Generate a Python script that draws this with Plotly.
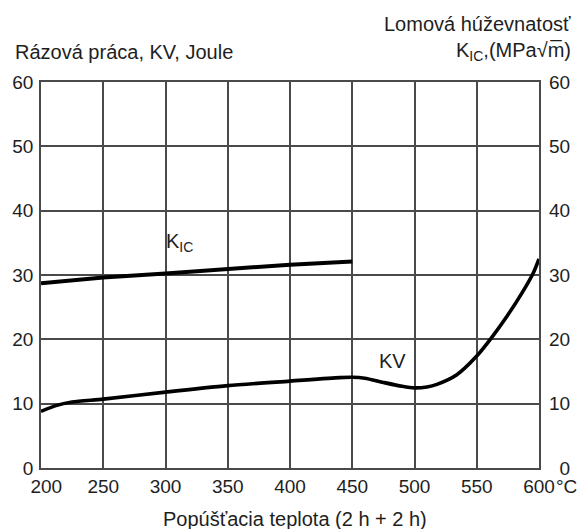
import plotly.graph_objects as go

# ---- data ----
kv_temp = [200, 212, 225, 250, 300, 350, 400, 440, 450, 460, 475, 490, 500, 510, 518, 534, 550, 561.5, 574, 586, 595.6, 600]
kv_val = [8.8, 9.7, 10.25, 10.7, 11.8, 12.8, 13.5, 14.05, 14.1, 13.95, 13.3, 12.7, 12.45, 12.6, 13.0, 14.5, 17.4, 20.15, 23.5, 27.1, 30.4, 32.5]

kic_temp = [200, 250, 300, 350, 400, 450]
kic_val = [28.7, 29.6, 30.25, 31.0, 31.6, 32.1]

x_ticks = [200, 250, 300, 350, 400, 450, 500, 550, 600]
x_ticklabels = ["\u2007200", "250", "300", "350", "400", "450", "500", "550", "600"]
y_ticks = [0, 10, 20, 30, 40, 50, 60]
y_ticklabels = ["0", "10", "20", "30", "40", "50", "60"]
y2_ticklabels = ["\u20070", "10", "20", "30", "40", "50", "60"]

FONT = "Liberation Sans, Arial, sans-serif"
TXT = "#1e1e1e"
GRID = "#4a4a4a"

fig = go.Figure()
fig.add_trace(go.Scatter(x=kic_temp, y=kic_val, mode="lines",
                         line=dict(color="black", width=4), showlegend=False))
fig.add_trace(go.Scatter(x=kv_temp, y=kv_val, mode="lines",
                         line=dict(color="black", width=3.6, shape="spline", smoothing=0.7),
                         showlegend=False))
# invisible trace to activate right axis
fig.add_trace(go.Scatter(x=[200], y=[0], yaxis="y2", mode="lines",
                         line=dict(width=0), showlegend=False, hoverinfo="skip"))

axis_common = dict(showgrid=True, gridcolor=GRID, gridwidth=1.5, zeroline=False,
                   showline=True, linecolor=GRID, linewidth=1.5, ticks="",
                   tickfont=dict(family=FONT, size=19, color=TXT))

fig.update_layout(
    width=582, height=529,
    margin=dict(l=40, r=39, t=82, b=61),
    paper_bgcolor="white", plot_bgcolor="white",
    font=dict(family=FONT, color=TXT, size=20),
    xaxis=dict(range=[200, 600], tickvals=x_ticks, ticktext=x_ticklabels,
               mirror=True, **axis_common),
    yaxis=dict(range=[0, 60], tickvals=y_ticks, ticktext=y_ticklabels,
               mirror=True, ticklabelstandoff=2, **axis_common),
    yaxis2=dict(range=[0, 60], tickvals=y_ticks, ticktext=y2_ticklabels,
                overlaying="y", side="right", showgrid=False, zeroline=False,
                showline=False, ticks="", ticklabelstandoff=9,
                tickfont=dict(family=FONT, size=19, color=TXT)),
)

annos = [
    dict(text="Rázová práca, KV, Joule", x=-0.0557, y=1.078, xanchor="left", yanchor="middle"),
    dict(text="Lomová húževnatosť", x=1.0676, y=1.150, xanchor="right", yanchor="middle"),
    dict(text="K<sub>IC</sub>,(MPa√m\u0305)", x=1.0676, y=1.078, xanchor="right", yanchor="middle"),
    dict(text="Popúšťacia teplota (2 h + 2 h)", x=0.511, y=-0.132, xanchor="center", yanchor="middle"),
]
for a in annos:
    fig.add_annotation(xref="paper", yref="paper", showarrow=False,
                       font=dict(family=FONT, size=20, color=TXT), **a)

# °C unit after the 600 tick label
fig.add_annotation(xref="x", yref="paper", x=600, y=-0.047, text="°C", showarrow=False,
                   xanchor="left", yanchor="middle", xshift=15,
                   font=dict(family=FONT, size=19, color=TXT))
# curve labels
fig.add_annotation(xref="x", yref="y", x=299, y=35.0, text="K<sub>IC</sub>", showarrow=False,
                   xanchor="left", yanchor="middle", font=dict(family=FONT, size=20, color=TXT))
fig.add_annotation(xref="x", yref="y", x=482, y=16.6, text="KV", showarrow=False,
                   xanchor="center", yanchor="middle", font=dict(family=FONT, size=20, color=TXT))

fig.write_html("out.html", config={"displayModeBar": False},
               post_script="document.body.style.margin='0';")
